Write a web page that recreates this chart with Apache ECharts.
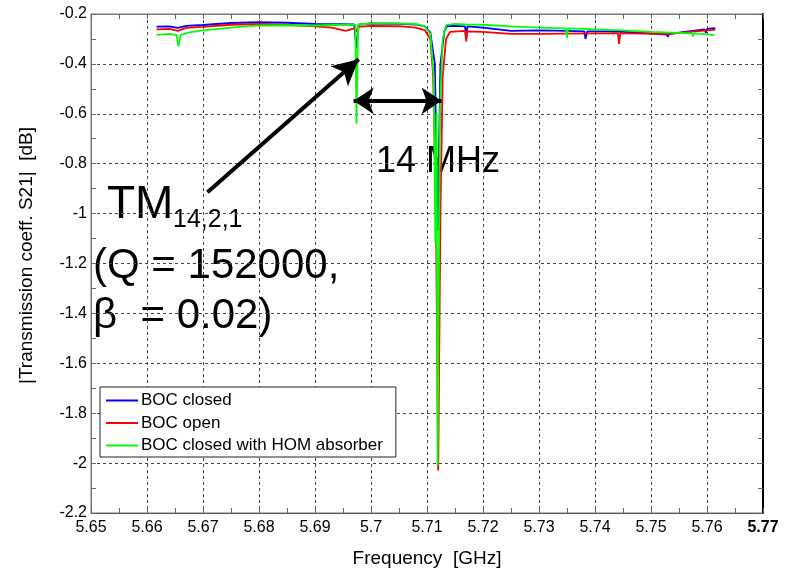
<!DOCTYPE html>
<html>
<head>
<meta charset="utf-8">
<script src="https://cdn.jsdelivr.net/npm/echarts@6/dist/echarts.min.js"></script>
<style>
  html, body { margin: 0; padding: 0; background: #fff; }
  #chart { width: 794px; height: 573px; }
</style>
</head>
<body>
<div id="chart"></div>
<script>
// axis ranges / ticks
var xMin = 5.65, xMax = 5.77, xStep = 0.01;
var yMin = -2.2, yMax = -0.2, yStep = 0.2;

// BOC closed
var freqClosed = [5.6617, 5.664, 5.6655, 5.667, 5.670, 5.675, 5.680, 5.685, 5.690, 5.695, 5.6970, 5.6974, 5.6978,
  5.700, 5.705, 5.708, 5.7096, 5.7106, 5.7114, 5.7119, 5.7124, 5.7131, 5.7136, 5.715, 5.7168, 5.717, 5.7172, 5.720,
  5.725, 5.730, 5.735, 5.7381, 5.7383, 5.7386, 5.742, 5.745, 5.750, 5.7528, 5.753, 5.7532, 5.756, 5.7596, 5.7598,
  5.760, 5.7615];
var s21Closed = [-0.251, -0.250, -0.256, -0.248, -0.244, -0.236, -0.233, -0.235, -0.240, -0.241, -0.242, -0.335, -0.243,
  -0.238, -0.239, -0.242, -0.250, -0.275, -0.40, -1.07, -0.40, -0.27, -0.247, -0.248, -0.250, -0.300, -0.250, -0.255,
  -0.268, -0.266, -0.268, -0.270, -0.300, -0.270, -0.270, -0.272, -0.278, -0.283, -0.292, -0.281, -0.272, -0.262, -0.275,
  -0.260, -0.257];

// BOC open
var freqOpen = [5.6617, 5.664, 5.6655, 5.667, 5.670, 5.675, 5.680, 5.685, 5.690, 5.693, 5.6955, 5.697, 5.6974, 5.6977,
  5.700, 5.705, 5.708, 5.7096, 5.7106, 5.7111, 5.7116, 5.712, 5.7124, 5.7128, 5.7134, 5.7141, 5.7168, 5.717, 5.7172,
  5.720, 5.725, 5.730, 5.735, 5.740, 5.7441, 5.7443, 5.7445, 5.750, 5.753, 5.757, 5.7615];
var s21Open = [-0.262, -0.260, -0.268, -0.256, -0.252, -0.243, -0.240, -0.243, -0.250, -0.255, -0.268, -0.258, -0.270, -0.252,
  -0.248, -0.249, -0.255, -0.265, -0.300, -0.45, -1.0, -2.03, -1.0, -0.45, -0.30, -0.272, -0.268, -0.310, -0.270,
  -0.272, -0.280, -0.280, -0.279, -0.278, -0.278, -0.320, -0.277, -0.280, -0.280, -0.272, -0.263];

// BOC closed with HOM absorber
var freqHom = [5.6617, 5.664, 5.6653, 5.6656, 5.666, 5.6675, 5.670, 5.675, 5.680, 5.685, 5.690, 5.695, 5.6972, 5.6974,
  5.6977, 5.700, 5.705, 5.708, 5.7096, 5.7106, 5.7112, 5.7115, 5.7117, 5.7119, 5.7123, 5.7128, 5.7134, 5.715, 5.7169,
  5.720, 5.725, 5.730, 5.7348, 5.7350, 5.7352, 5.738, 5.740, 5.745, 5.750, 5.755, 5.7573, 5.7575, 5.7577, 5.760, 5.7613];
var s21Hom = [-0.284, -0.280, -0.285, -0.330, -0.285, -0.274, -0.266, -0.255, -0.246, -0.245, -0.246, -0.243, -0.243, -0.640,
  -0.242, -0.238, -0.238, -0.240, -0.250, -0.280, -0.45, -1.12, -0.60, -2.01, -0.60, -0.30, -0.245, -0.240, -0.242,
  -0.243, -0.250, -0.255, -0.258, -0.295, -0.258, -0.260, -0.262, -0.266, -0.272, -0.276, -0.278, -0.290, -0.278, -0.282, -0.285];

var seriesNames = ['BOC closed', 'BOC open', 'BOC closed with HOM absorber'];
var seriesColors = ['#0000ff', '#ff0000', '#00ff00'];

// annotation arrows (data coords, tip to tip)
var modeArrow = [[5.6708, -0.914], [5.6978, -0.381]];
var spacingArrow = [[5.6969, -0.548], [5.7126, -0.548]];

function pairs(xs, ys) {
  var out = [];
  for (var i = 0; i < xs.length; i++) out.push([xs[i], ys[i]]);
  return out;
}

var font = 'Liberation Sans, Arial, sans-serif';
var myChart = echarts.init(document.getElementById('chart'));

var tickCommon = { show: true, inside: true, length: 5, lineStyle: { color: '#666' } };
var minorCommon = { show: true, splitNumber: 2, length: 5, lineStyle: { color: '#666' } };

var option = {
  animation: false,
  backgroundColor: '#fff',
  textStyle: { fontFamily: font },
  grid: {
    left: 91, top: 14, right: 31, bottom: 55,
    show: true, borderColor: '#777', borderWidth: 1
  },
  legend: {
    data: seriesNames,
    orient: 'vertical',
    left: 100, top: 387,
    padding: [5, 13, 3, 6],
    itemGap: 5.5,
    itemWidth: 32, itemHeight: 2,
    icon: 'rect',
    borderColor: '#222', borderWidth: 1,
    backgroundColor: '#fff',
    textStyle: { fontSize: 17, color: '#000', fontFamily: font, padding: [0, 0, 0, -2] }
  },
  xAxis: [
    {
      type: 'value', min: xMin, max: xMax, interval: xStep,
      name: 'Frequency  [GHz]', nameLocation: 'middle', nameGap: 36,
      nameTextStyle: { fontSize: 19, color: '#000' },
      axisLine: { show: true, lineStyle: { color: '#555' } },
      axisTick: tickCommon,
      minorTick: minorCommon,
      axisLabel: {
        fontSize: 16, color: '#000', margin: 7,
        formatter: function (v) {
          return Math.abs(v - xMax) < 1e-9 ? '{b|' + v + '}' : String(+v.toFixed(2));
        },
        rich: { b: { fontSize: 16, fontWeight: 'bold', color: '#000' } }
      },
      splitLine: { show: true, lineStyle: { color: '#444', type: [3, 3], width: 1 } }
    },
    {
      type: 'value', min: xMin, max: xMax, interval: xStep, position: 'top',
      axisLine: { show: true, lineStyle: { color: '#777' } },
      axisTick: tickCommon, minorTick: minorCommon,
      axisLabel: { show: false }, splitLine: { show: false }
    }
  ],
  yAxis: [
    {
      type: 'value', min: yMin, max: yMax, interval: yStep,
      name: '|Transmission coeff. S21|  [dB]', nameLocation: 'middle', nameGap: 55,
      nameTextStyle: { fontSize: 19, color: '#000', padding: [0, 0, 0, 16] },
      axisLine: { show: true, lineStyle: { color: '#777' } },
      axisTick: tickCommon, minorTick: minorCommon,
      axisLabel: { fontSize: 16, color: '#000', margin: 4 },
      splitLine: { show: true, lineStyle: { color: '#444', type: [3, 3], width: 1 } }
    },
    {
      type: 'value', min: yMin, max: yMax, interval: yStep, position: 'right',
      axisLine: { show: true, lineStyle: { color: '#000', width: 2 } },
      axisTick: tickCommon, minorTick: minorCommon,
      axisLabel: { show: false }, splitLine: { show: false }
    }
  ],
  series: [
    {
      name: seriesNames[0], type: 'line', data: pairs(freqClosed, s21Closed),
      showSymbol: false, color: seriesColors[0], lineStyle: { width: 1.8 }
    },
    {
      name: seriesNames[1], type: 'line', data: pairs(freqOpen, s21Open),
      showSymbol: false, color: seriesColors[1], lineStyle: { width: 1.8 }
    },
    {
      name: seriesNames[2], type: 'line', data: pairs(freqHom, s21Hom),
      showSymbol: false, color: seriesColors[2], lineStyle: { width: 1.8 },
      markLine: {
        silent: true,
        animation: false,
        label: { show: false },
        lineStyle: { color: '#000', width: 4, type: 'solid' },
        emphasis: { disabled: true },
        data: [
          [
            { coord: modeArrow[0], symbol: 'none' },
            { coord: modeArrow[1], symbol: 'arrow', symbolSize: [20, 26] }
          ],
          [
            { coord: spacingArrow[0], symbol: 'arrow', symbolSize: [20, 20] },
            { coord: spacingArrow[1], symbol: 'arrow', symbolSize: [20, 20] }
          ]
        ]
      }
    }
  ],
  graphic: [
    { type: 'text', left: 107, top: 182, style: { text: 'TM', font: '46px ' + font, fill: '#000' } },
    { type: 'text', left: 173, top: 208, style: { text: '14,2,1', font: '25px ' + font, fill: '#000' } },
    { type: 'text', left: 93, top: 245, style: { text: '(Q = 152000,', font: '42px ' + font, fill: '#000' } },
    { type: 'text', left: 93, top: 295, style: { text: 'β  = 0.02)', font: '42px ' + font, fill: '#000' } },
    { type: 'text', left: 376, top: 144, style: { text: '14 MHz', font: '36px ' + font, fill: '#000' } }
  ]
};

myChart.setOption(option);
</script>
</body>
</html>
